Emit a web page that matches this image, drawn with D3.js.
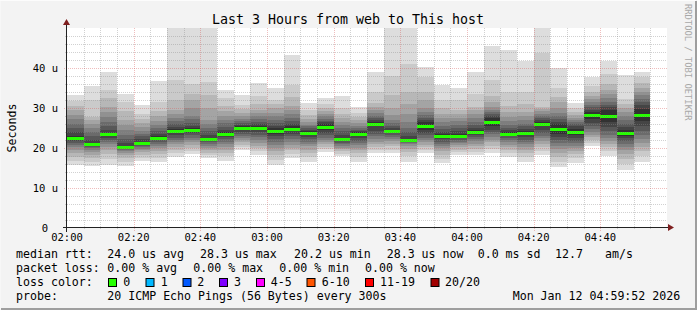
<!DOCTYPE html>
<html>
<head>
<meta charset="utf-8">
<script src="https://cdn.jsdelivr.net/npm/d3@7"></script>
<style>
body{margin:0;background:#f3f3f3}
svg{display:block}
text{font-family:"DejaVu Sans Mono",monospace}
</style>
</head>
<body>
<svg width="697" height="310"></svg>
<script>
//-- data --//
const barTimes = ["02:00","02:05","02:10","02:15","02:20","02:25","02:30","02:35","02:40","02:45",
  "02:50","02:55","03:00","03:05","03:10","03:15","03:20","03:25","03:30","03:35",
  "03:40","03:45","03:50","03:55","04:00","04:05","04:10","04:15","04:20","04:25",
  "04:30","04:35","04:40","04:45","04:50"];

// 20 sorted ping rtts (us) per 5 min step
const pings = [
  [15.8,16.8,17.8,18.7,19.5,20.2,20.8,21.3,21.8,22.2,23.0,24.0,25.0,26.0,27.2,28.3,29.5,30.5,31.7,33.2],
  [15.5,16.5,17.5,18.3,19.0,19.5,19.9,20.2,20.5,20.7,21.1,22.0,23.0,24.0,25.0,26.0,27.0,27.8,32.0,35.5],
  [15.8,17.2,18.5,19.5,20.3,21.0,21.6,22.1,22.6,23.0,23.8,24.6,25.5,26.6,27.8,29.0,30.3,32.5,34.5,39.0],
  [15.6,16.6,17.5,18.2,18.8,19.2,19.5,19.8,20.0,20.1,20.4,21.2,22.2,23.3,24.5,25.8,27.0,29.2,31.5,33.5],
  [16.8,17.6,18.3,18.9,19.4,19.8,20.2,20.5,20.8,21.0,21.5,22.2,22.9,23.6,24.3,25.2,26.2,27.3,28.5,30.8],
  [16.6,17.4,18.5,19.3,19.9,20.4,20.9,21.4,21.9,22.3,22.9,23.5,24.2,25.0,25.8,26.7,28.0,29.3,31.4,36.8],
  [17.8,18.8,19.6,20.3,20.9,21.5,22.0,22.6,23.2,23.8,24.7,25.3,26.0,26.8,27.5,28.5,29.6,32.0,37.0,52.0],
  [18.5,19.3,20.0,20.7,21.4,22.0,22.6,23.2,23.8,24.3,24.9,25.6,26.3,27.2,28.0,30.0,32.0,33.6,36.0,52.0],
  [17.6,18.2,18.8,19.4,19.9,20.4,20.9,21.4,21.8,22.1,22.4,23.3,24.2,25.0,26.0,27.0,30.0,33.2,36.6,52.0],
  [16.8,17.9,18.8,19.5,20.2,21.0,21.6,22.2,22.7,23.2,24.0,24.6,25.3,26.2,27.0,28.0,29.2,30.5,32.5,34.5],
  [19.6,20.2,20.8,21.4,22.0,22.5,23.0,23.5,24.0,24.6,25.4,25.8,26.2,26.7,27.3,28.0,28.8,29.8,30.8,33.2],
  [18.3,19.2,20.0,20.6,21.3,22.0,22.7,23.3,24.0,24.7,25.5,26.0,26.6,27.3,28.0,28.8,29.5,31.0,33.0,36.2],
  [15.8,17.0,18.2,19.2,20.0,20.8,21.5,22.2,22.9,23.6,24.9,25.5,26.2,27.0,28.0,28.8,30.0,31.0,32.0,35.0],
  [17.6,18.6,19.4,20.0,20.8,21.5,22.3,23.0,23.6,24.2,25.5,26.0,26.8,27.5,28.5,29.5,30.5,32.8,35.8,43.3],
  [16.6,17.8,18.8,19.6,20.4,21.0,21.6,22.2,22.8,23.4,24.2,24.6,25.0,25.4,25.8,26.5,27.3,28.2,29.5,31.2],
  [19.1,19.7,20.3,20.9,21.5,22.0,22.6,23.2,23.8,24.5,26.0,26.4,26.8,27.3,27.9,28.5,29.2,30.0,31.0,32.4],
  [18.0,18.6,19.2,19.7,20.1,20.5,20.9,21.3,21.7,22.0,22.5,23.3,24.2,25.0,25.8,26.6,27.5,28.5,30.0,33.0],
  [16.6,17.8,18.8,19.5,20.1,20.7,21.2,21.8,22.5,23.2,24.0,24.3,24.6,25.0,25.5,26.2,27.0,27.8,28.8,30.2],
  [18.8,19.5,20.2,20.9,21.5,22.2,22.9,23.6,24.3,25.6,26.6,27.0,27.5,28.1,28.8,29.5,30.3,31.2,34.0,39.0],
  [18.7,19.6,20.4,21.1,21.7,22.3,22.8,23.3,23.7,24.0,24.5,25.0,25.6,26.3,27.0,28.2,30.0,33.2,38.0,52.0],
  [16.6,18.0,19.0,19.8,20.4,20.9,21.3,21.6,21.9,22.0,22.2,23.0,24.0,25.0,26.5,28.5,31.0,34.0,41.0,52.0],
  [18.7,19.5,20.2,20.8,21.4,22.0,22.6,23.2,23.8,24.6,26.6,27.0,27.5,28.2,29.0,30.0,32.0,34.0,37.8,40.3],
  [16.2,17.3,18.3,19.2,19.9,20.5,21.0,21.6,22.2,22.7,23.5,24.1,24.8,25.5,26.5,27.5,28.5,30.0,32.0,35.7],
  [18.3,19.0,19.6,20.2,20.7,21.2,21.6,22.0,22.4,22.8,23.4,24.2,25.0,25.8,26.7,27.5,28.5,29.5,32.0,35.0],
  [18.3,19.1,19.8,20.5,21.1,21.7,22.3,22.8,23.3,23.7,24.5,25.0,25.7,26.5,27.4,28.5,29.5,30.3,33.5,39.0],
  [18.8,19.8,20.6,21.4,22.1,22.8,23.4,24.0,24.6,25.6,27.4,27.9,28.4,29.0,29.6,30.3,31.5,33.0,37.0,45.6],
  [17.7,18.7,19.5,20.2,20.8,21.4,22.0,22.5,23.0,23.3,23.9,24.4,25.0,25.8,26.8,27.8,29.0,30.5,34.0,44.5],
  [16.6,17.8,18.8,19.6,20.3,20.9,21.5,22.1,22.7,23.3,24.2,24.8,25.4,26.0,27.0,28.0,29.0,31.0,34.0,41.8],
  [18.3,19.3,20.2,21.0,21.8,22.5,23.1,23.7,24.5,25.4,26.6,27.0,27.5,28.0,28.6,29.2,29.8,30.2,43.7,50.5],
  [15.2,16.6,17.8,18.8,19.7,20.5,21.2,22.0,22.8,23.6,26.0,26.5,27.2,28.0,28.8,30.0,31.5,32.8,35.0,40.0],
  [16.2,17.4,18.5,19.3,20.0,20.6,21.2,21.8,22.4,23.2,24.8,25.4,26.0,26.5,27.0,27.6,28.3,29.0,30.0,31.2],
  [20.5,21.3,22.0,22.7,23.3,24.0,24.8,25.5,26.3,27.3,29.1,29.6,30.2,30.8,31.5,32.2,33.0,34.0,35.5,37.7],
  [18.0,19.2,20.2,21.0,21.8,22.5,23.3,24.2,25.2,26.4,29.6,30.2,30.8,31.5,32.4,33.5,34.5,36.0,38.5,41.8],
  [14.5,16.0,17.3,18.5,19.5,20.3,21.0,21.7,22.4,23.1,24.5,25.2,26.0,27.0,28.0,29.0,30.0,31.0,32.2,38.2],
  [16.6,18.0,19.2,20.3,21.3,22.3,23.3,24.3,25.5,26.8,29.8,30.8,31.5,32.3,33.2,34.0,35.0,36.2,37.8,39.1]
];

const xTickLabels = ["02:00","02:20","02:40","03:00","03:20","03:40","04:00","04:20","04:40"];
const yTickValues = [0, 10, 20, 30, 40];
const yTickLabels = ["0", "10 u", "20 u", "30 u", "40 u"];

const lossLabels = ["0", "1", "2", "3", "4-5", "6-10", "11-19", "20/20"];
const lossColors = ["#26ff00", "#00b8ff", "#0059ff", "#7e00ff", "#ff00ff", "#ff5500", "#ff0000", "#a10000"];

const title = "Last 3 Hours from web to This host";
const rttRow = ["median rtt:", "24.0 us avg", "28.3 us max", "20.2 us min", "28.3 us now", "0.0 ms sd", "12.7", "am/s"];
const lossRow = ["packet loss:", "0.00 % avg", "0.00 % max", "0.00 % min", "0.00 % now"];
const probeRow = ["probe:", "20 ICMP Echo Pings (56 Bytes) every 300s", "Mon Jan 12 04:59:52 2026"];

//-- scales --//
const W = 697, H = 310;
const margin = {top: 28, right: 30, bottom: 82, left: 67};
const day = (s) => { const [h, m] = s.split(":").map(Number); return new Date(Date.UTC(2026, 0, 12, h, m)); };
const t0 = day("02:00"), t1 = day("05:00");

const x = d3.scaleUtc().domain([t0, t1]).range([margin.left, W - margin.right]);
const y = d3.scaleLinear().domain([0, 50]).range([H - margin.bottom, margin.top]);

const smoke = k => { // rrd smoke shade for band k (between ping k and k+1)
  const ibot = Math.min(k + 1, 19 - k);
  const c = Math.floor(190 / 10 * (10 - ibot)) + 50;
  return d3.rgb(c, c, c).toString();
};

const svg = d3.select("svg");
const px = v => Math.round(v) + 0.5;

svg.append("rect").attr("width", W).attr("height", H).attr("fill", "#f3f3f3");
// shaded frame
svg.append("path").attr("d", `M0,${H-1}V0.5H${W-1}`).attr("fill", "none").attr("stroke", "#fcfcfc");
svg.append("path").attr("d", `M1,${H-1}H${W-1}V1`).attr("fill", "none").attr("stroke", "#9e9e9e").attr("stroke-width", 2);

// canvas
svg.append("rect")
  .attr("x", x.range()[0]).attr("y", y.range()[1])
  .attr("width", x.range()[1] - x.range()[0]).attr("height", y.range()[0] - y.range()[1])
  .attr("fill", "#fff");

svg.append("clipPath").attr("id", "plot").append("rect")
  .attr("x", x.range()[0]).attr("y", y.range()[1])
  .attr("width", x.range()[1] - x.range()[0]).attr("height", y.range()[0] - y.range()[1]);

const plot = svg.append("g").attr("clip-path", "url(#plot)").attr("shape-rendering", "crispEdges");

const bars = plot.selectAll("g.bar")
  .data(barTimes.map((t, i) => ({t: day(t), p: pings[i]})))
  .join("g").attr("class", "bar");

bars.each(function(d) {
  const g = d3.select(this);
  const xa = Math.round(x(d.t)), xb = Math.round(x(d3.utcMinute.offset(d.t, 5)));
  d3.range(19).forEach(k => {
    const ya = Math.round(y(d.p[k + 1])), yb = Math.round(y(d.p[k]));
    g.append("rect").attr("x", xa).attr("width", xb - xa)
      .attr("y", ya).attr("height", Math.max(0, yb - ya)).attr("fill", smoke(k));
  });
  const med = (d.p[9] + d.p[10]) / 2;
  g.append("rect").attr("x", xa).attr("width", xb - xa)
    .attr("y", Math.round(y(med)) - 1).attr("height", 3).attr("fill", lossColors[0]);
});

//-- grid (drawn over the smoke like rrdtool) --//
const grid = svg.append("g");
const minorCol = "rgba(140,140,140,0.4)", majorCol = "rgba(215,90,90,0.4)";
const minutes5 = d3.utcMinute.every(5).range(d3.utcMinute.offset(t0, 5), t1);
minutes5.forEach(t => {
  const major = t.getUTCMinutes() % 20 === 0;
  grid.append("line")
    .attr("x1", px(x(t))).attr("x2", px(x(t)))
    .attr("y1", y.range()[1]).attr("y2", y(0) + (major ? 3 : 2))
    .attr("stroke", major ? majorCol : minorCol).attr("stroke-dasharray", "1,1");
});
d3.range(2, 50, 2).forEach(v => {
  const major = v % 10 === 0;
  grid.append("line")
    .attr("x1", x.range()[0] - (major ? 3 : 2)).attr("x2", x.range()[1])
    .attr("y1", px(y(v))).attr("y2", px(y(v)))
    .attr("stroke", major ? majorCol : minorCol).attr("stroke-dasharray", "1,1");
});

//-- axes --//
const axisCol = "#222", arrowCol = "#7f1f1f";
svg.append("line").attr("x1", x.range()[0] - 4).attr("x2", x.range()[1] + 4)
  .attr("y1", px(y(0)) - 1).attr("y2", px(y(0)) - 1).attr("stroke", axisCol);
svg.append("line").attr("x1", px(x.range()[0]) - 1).attr("x2", px(x.range()[0]) - 1)
  .attr("y1", y(0) + 4).attr("y2", y.range()[1] - 4).attr("stroke", axisCol);
svg.append("path")
  .attr("d", `M${x.range()[1] + 1},${y(0) - 4}L${x.range()[1] + 7},${y(0) - 0.5}L${x.range()[1] + 1},${y(0) + 3}Z`)
  .attr("fill", arrowCol);
svg.append("path")
  .attr("d", `M${x.range()[0] - 4},${y.range()[1] - 3}L${x.range()[0] - 0.5},${y.range()[1] - 9}L${x.range()[0] + 3},${y.range()[1] - 3}Z`)
  .attr("fill", arrowCol);

svg.append("g").selectAll("text").data(xTickLabels).join("text")
  .attr("x", d => x(day(d))).attr("y", y(0) + 13)
  .attr("text-anchor", "middle").attr("font-size", 10.5).attr("fill", "#000")
  .text(d => d);

svg.append("g").selectAll("text").data(yTickValues).join("text")
  .attr("x", (d, i) => i === 0 ? 48 : 58).attr("y", d => y(d) + 4)
  .attr("text-anchor", "end").attr("font-size", 10.5).attr("fill", "#000")
  .text((d, i) => yTickLabels[i]);

svg.append("text")
  .attr("transform", `translate(15.5,${(y.range()[0] + y.range()[1]) / 2}) rotate(-90)`)
  .attr("text-anchor", "middle").attr("font-size", 11.6)
  .text("Seconds");

svg.append("text")
  .attr("x", 348).attr("y", 23.5).attr("text-anchor", "middle").attr("font-size", 13.3)
  .text(title);

svg.append("text")
  .attr("transform", "translate(685,4) rotate(90)")
  .attr("font-size", 8.8).attr("fill", "#a8a8a8")
  .text("RRDTOOL / TOBI OETIKER");

//-- legend --//
const leg = svg.append("g").attr("font-size", 11.6).attr("fill", "#000").attr("xml:space", "preserve");
const rowText = (row, xs, yy) => row.forEach((s, i) => leg.append("text").attr("x", xs[i]).attr("y", yy).text(s));
rowText(rttRow, [16, 107.3, 200, 294, 386.7, 477.7, 555, 605], 258);
rowText(lossRow, [16, 107.3, 193.3, 279.3, 365], 272);
leg.append("text").attr("x", 16).attr("y", 286).text("loss color:");
const sqX = [108.5, 146, 183, 219.5, 256.5, 307, 365.5, 431];
const lblX = [123.3, 160.7, 197.3, 234, 270.7, 321.7, 380, 445];
lossLabels.forEach((l, i) => {
  leg.append("rect").attr("x", sqX[i]).attr("y", 278.5).attr("width", 8).attr("height", 8)
    .attr("fill", lossColors[i]).attr("stroke", "#000");
  leg.append("text").attr("x", lblX[i]).attr("y", 286).text(l);
});
rowText(probeRow, [16, 107.3, 512.7], 300);
</script>
</body>
</html>
